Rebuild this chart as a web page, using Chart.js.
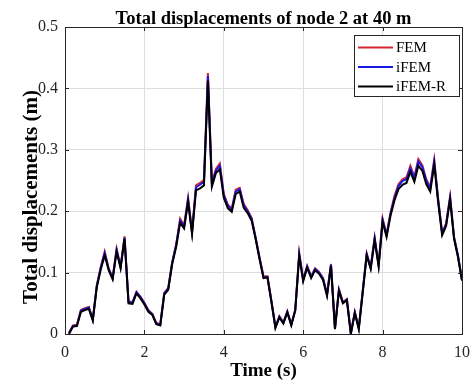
<!DOCTYPE html>
<html>
<head>
<meta charset="utf-8">
<script src="https://cdn.jsdelivr.net/npm/chart.js@4/dist/chart.umd.min.js"></script>
<style>
  html, body { margin: 0; padding: 0; background: #fff; }
  #wrap { width: 472px; height: 385px; }
</style>
</head>
<body>
<div id="wrap"><canvas id="c" width="472" height="385"></canvas></div>
<script>
// time samples (s)
const time = [0.1,0.2,0.3,0.4,0.5,0.6,0.7,0.8,0.9,1.0,
  1.1,1.2,1.3,1.4,1.5,1.6,1.7,1.8,1.9,2.0,
  2.1,2.2,2.3,2.4,2.5,2.6,2.7,2.8,2.9,3.0,
  3.1,3.2,3.3,3.4,3.5,3.6,3.7,3.8,3.9,4.0,
  4.1,4.2,4.3,4.4,4.5,4.6,4.7,4.8,4.9,5.0,
  5.1,5.2,5.3,5.4,5.5,5.6,5.7,5.8,5.9,6.0,
  6.1,6.2,6.3,6.4,6.5,6.6,6.7,6.8,6.9,7.0,
  7.1,7.2,7.3,7.4,7.5,7.6,7.7,7.8,7.9,8.0,
  8.1,8.2,8.3,8.4,8.5,8.6,8.7,8.8,8.9,9.0,
  9.1,9.2,9.3,9.4,9.5,9.6,9.7,9.8,9.9,10.0];

// total displacement (m)
const fem = [0.002,0.014,0.015,0.039,0.042,0.044,0.024,0.079,0.109,0.134,
  0.107,0.092,0.139,0.110,0.159,0.053,0.052,0.069,0.061,0.051,
  0.039,0.033,0.018,0.016,0.067,0.075,0.117,0.146,0.188,0.177,
  0.222,0.167,0.242,0.246,0.251,0.425,0.246,0.269,0.278,0.228,
  0.211,0.204,0.235,0.238,0.212,0.202,0.189,0.158,0.125,0.094,
  0.094,0.054,0.012,0.029,0.019,0.037,0.016,0.040,0.132,0.089,
  0.111,0.094,0.107,0.101,0.091,0.065,0.114,0.010,0.073,0.052,
  0.057,0.002,0.036,0.010,0.071,0.131,0.109,0.157,0.113,0.188,
  0.162,0.198,0.225,0.244,0.252,0.255,0.274,0.256,0.285,0.275,
  0.252,0.239,0.284,0.220,0.165,0.180,0.224,0.158,0.127,0.088];

const ifem = [0.001,0.013,0.014,0.038,0.041,0.043,0.023,0.078,0.108,0.132,
  0.106,0.091,0.137,0.109,0.157,0.052,0.051,0.068,0.060,0.050,
  0.038,0.032,0.017,0.015,0.066,0.074,0.116,0.145,0.185,0.175,
  0.219,0.166,0.239,0.243,0.248,0.420,0.244,0.266,0.274,0.226,
  0.209,0.202,0.232,0.236,0.210,0.200,0.188,0.157,0.124,0.093,
  0.093,0.053,0.011,0.028,0.018,0.036,0.015,0.039,0.130,0.088,
  0.110,0.093,0.106,0.100,0.090,0.064,0.113,0.009,0.072,0.051,
  0.056,0.001,0.035,0.009,0.070,0.130,0.108,0.156,0.112,0.186,
  0.161,0.196,0.222,0.241,0.249,0.252,0.270,0.254,0.281,0.272,
  0.250,0.237,0.281,0.218,0.164,0.179,0.222,0.157,0.127,0.088];

const ifemR = [0.000,0.012,0.013,0.036,0.039,0.041,0.022,0.076,0.105,0.128,
  0.104,0.089,0.134,0.107,0.155,0.050,0.049,0.066,0.058,0.048,
  0.036,0.031,0.016,0.014,0.064,0.072,0.114,0.142,0.181,0.172,
  0.215,0.163,0.234,0.237,0.242,0.413,0.240,0.262,0.268,0.222,
  0.205,0.199,0.228,0.232,0.206,0.197,0.185,0.155,0.122,0.091,
  0.092,0.052,0.010,0.027,0.017,0.035,0.014,0.038,0.127,0.086,
  0.108,0.091,0.104,0.098,0.088,0.062,0.111,0.008,0.070,0.050,
  0.055,0.000,0.034,0.008,0.068,0.128,0.106,0.153,0.110,0.183,
  0.158,0.193,0.218,0.236,0.243,0.246,0.264,0.248,0.274,0.266,
  0.244,0.232,0.276,0.214,0.161,0.176,0.219,0.155,0.125,0.087];

const seriesNames = ['FEM', 'iFEM', 'iFEM-R'];
const seriesColors = ['#d7262e', '#1a1ae6', '#000000'];
const xTicks = [0, 2, 4, 6, 8, 10];
const yTicks = [0, 0.1, 0.2, 0.3, 0.4, 0.5];

const serif = '"Liberation Serif", "Times New Roman", serif';

const toPoints = ys => ys.map((y, i) => ({ x: time[i], y: y }));

// box, inward ticks, titles and legend, MATLAB-style
const decorPlugin = {
  id: 'decor',
  afterDraw(chart) {
    const ctx = chart.ctx;
    const a = chart.chartArea;
    const xs = chart.scales.x, ys = chart.scales.y;
    ctx.save();

    // inward ticks
    ctx.strokeStyle = '#262626';
    ctx.lineWidth = 1;
    ctx.beginPath();
    xTicks.forEach(v => {
      const px = Math.round(xs.getPixelForValue(v)) + 0.5;
      ctx.moveTo(px, a.bottom); ctx.lineTo(px, a.bottom - 4);
      ctx.moveTo(px, a.top); ctx.lineTo(px, a.top + 4);
    });
    yTicks.forEach(v => {
      const py = Math.round(ys.getPixelForValue(v)) + 0.5;
      ctx.moveTo(a.left, py); ctx.lineTo(a.left + 4, py);
      ctx.moveTo(a.right, py); ctx.lineTo(a.right - 4, py);
    });
    ctx.stroke();

    // axes box
    ctx.strokeRect(Math.round(a.left) + 0.5, Math.round(a.top) + 0.5,
      Math.round(a.right - a.left), Math.round(a.bottom - a.top));

    // title
    ctx.fillStyle = '#000';
    ctx.textAlign = 'center';
    ctx.textBaseline = 'alphabetic';
    ctx.font = 'bold 18.5px ' + serif;
    const cx = (a.left + a.right) / 2;
    ctx.fillText('Total displacements of node 2 at 40 m', cx, 24);

    // x label
    ctx.font = 'bold 19px ' + serif;
    ctx.fillText('Time (s)', cx, 376);

    // y label
    ctx.save();
    ctx.translate(37, 197);
    ctx.rotate(-Math.PI / 2);
    ctx.font = 'bold 21px ' + serif;
    ctx.fillText('Total displacements (m)', 0, 0);
    ctx.restore();

    // legend
    const lx = 354.5, ly = 35.5, lw = 105, lh = 61;
    ctx.fillStyle = '#fff';
    ctx.fillRect(lx, ly, lw, lh);
    ctx.strokeStyle = '#262626';
    ctx.strokeRect(lx, ly, lw, lh);
    ctx.font = '15px ' + serif;
    ctx.textAlign = 'left';
    ctx.textBaseline = 'middle';
    seriesNames.forEach((name, i) => {
      const y = 47.5 + i * 19.5;
      ctx.strokeStyle = seriesColors[i];
      ctx.lineWidth = 1.8;
      ctx.beginPath();
      ctx.moveTo(358, y); ctx.lineTo(393, y);
      ctx.stroke();
      ctx.fillStyle = '#000';
      ctx.fillText(name, 396, y + 1);
    });
    ctx.restore();
  }
};

new Chart(document.getElementById('c'), {
  type: 'line',
  data: {
    // order: FEM drawn first, iFEM-R drawn last (on top), like MATLAB
    datasets: [fem, ifem, ifemR].map((d, i) => ({
      label: seriesNames[i],
      data: toPoints(d),
      order: 3 - i,
      borderColor: seriesColors[i],
      backgroundColor: seriesColors[i],
      borderWidth: 2,
      pointRadius: 0,
      tension: 0,
      fill: false
    }))
  },
  options: {
    responsive: false,
    animation: false,
    events: [],
    layout: { padding: { top: 27, right: 10, left: 0, bottom: 0 } },
    plugins: { legend: { display: false }, title: { display: false }, tooltip: { enabled: false } },
    scales: {
      x: {
        type: 'linear', min: 0, max: 10,
        afterBuildTicks: s => { s.ticks = xTicks.map(v => ({ value: v })); },
        afterFit: s => { s.height = 51; s.paddingLeft = 0; s.paddingRight = 0; },
        grid: { color: '#dedede', drawTicks: false },
        border: { display: false },
        ticks: { color: '#262626', padding: 9, font: { family: serif, size: 16 }, maxRotation: 0 }
      },
      y: {
        type: 'linear', min: 0, max: 0.5,
        afterBuildTicks: s => { s.ticks = yTicks.map(v => ({ value: v })); },
        afterFit: s => { s.width = 65; s.paddingTop = 0; s.paddingBottom = 0; },
        grid: { color: '#dedede', drawTicks: false },
        border: { display: false },
        ticks: {
          color: '#262626', padding: 7, font: { family: serif, size: 16 },
          callback: v => String(+v.toFixed(1))
        }
      }
    }
  },
  plugins: [decorPlugin]
});
</script>
</body>
</html>
